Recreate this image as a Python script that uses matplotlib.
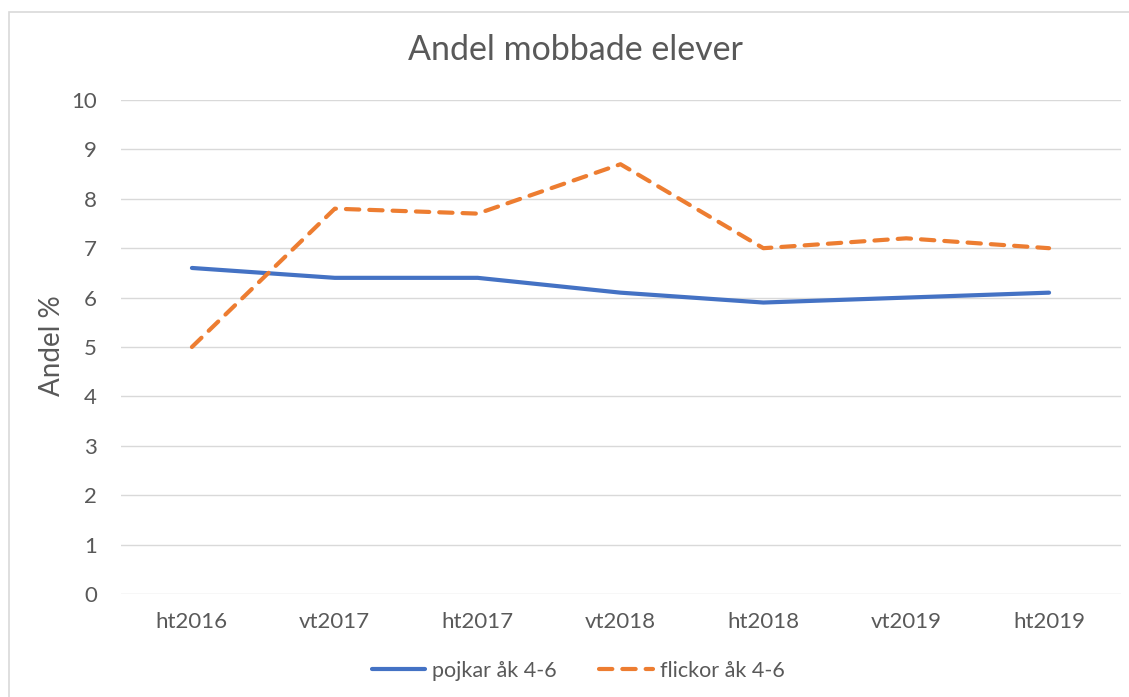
import matplotlib
matplotlib.use("Agg")
import matplotlib.pyplot as plt
from matplotlib.patches import Rectangle

categories = ["ht2016", "vt2017", "ht2017", "vt2018", "ht2018", "vt2019", "ht2019"]
pojkar = [6.6, 6.4, 6.4, 6.1, 5.9, 6.0, 6.1]
flickor = [5.0, 7.8, 7.7, 8.7, 7.0, 7.2, 7.0]
yticks = list(range(0, 11))

plt.rcParams['font.family'] = ['Lato', 'DejaVu Sans']
txt = '#595959'

fig = plt.figure(figsize=(11.29, 6.97), dpi=100)
fig.patches.append(Rectangle((9/1129, -0.1), 1.2, (697-12)/697 + 0.1, transform=fig.transFigure,
                             fill=False, edgecolor='#d9d9d9', linewidth=1.2))
ax = fig.add_axes([120.5/1129, 103/697, 1000/1129, 494/697])

x = list(range(len(categories)))
ax.plot(x, pojkar, color='#4472c4', linewidth=3, label='pojkar åk 4-6', solid_capstyle='round')
ax.plot(x, flickor, color='#ed7d31', linewidth=3, linestyle=(0, (3.2, 2.4)), label='flickor åk 4-6',
        dash_capstyle='round')

ax.set_xlim(-0.5, len(categories) - 0.5)
ax.set_ylim(0, 10)
ax.set_yticks(yticks)
ax.set_xticks(x)
ax.set_xticklabels(categories)
ax.tick_params(axis='both', length=0, labelsize=16, colors=txt)
ax.tick_params(axis='y', pad=17)
ax.tick_params(axis='x', pad=13)
ax.grid(axis='y', color='#d9d9d9', linewidth=1)
ax.set_axisbelow(True)
for s in ax.spines.values():
    s.set_visible(False)

fig.text(52/1129, 1 - 346/697, 'Andel %', ha='center', va='center', rotation=90, fontsize=20, color=txt)
fig.text(575/1129, 1 - 50/697, 'Andel mobbade elever', ha='center', va='center', fontsize=24.5, color=txt)

leg = fig.legend(loc='center', bbox_to_anchor=(578/1129, 1 - 671/697), ncol=2, frameon=False,
                 fontsize=15.5, handlelength=2.5, columnspacing=2.0, handletextpad=0.3)
for t in leg.get_texts():
    t.set_color(txt)

fig.savefig('out.png', dpi=100)
